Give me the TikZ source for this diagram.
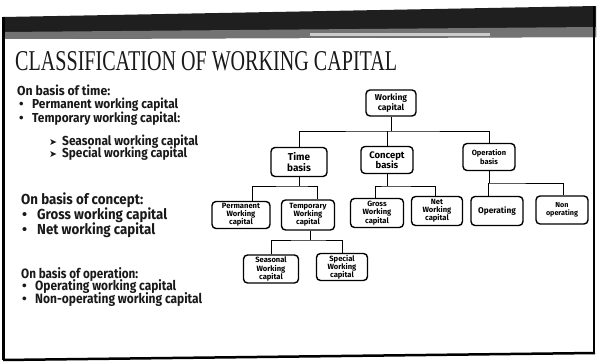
\documentclass[tikz,border=0pt]{standalone}
\usepackage{fontspec}
\setmainfont{Fira Sans}
\newfontfamily\titlef{Liberation Serif}
\newfontfamily\dejavu{DejaVu Sans}
\newcommand\fw[2]{\resizebox{#1pt}{\height}{#2}}
\newcommand\sizeA{\bfseries\fontsize{13}{15}\selectfont}
\newcommand\sizeB{\bfseries\fontsize{14.5}{16}\selectfont}
\newcommand\sizeC{\bfseries\fontsize{13.5}{15}\selectfont}
\newcommand\leaf{\bfseries\fontsize{7.6}{8.2}\selectfont}
\tikzset{
  box/.style={draw, line width=1.4pt, rounded corners=4pt, align=center, inner sep=0pt,
    font=\bfseries\fontsize{8.5}{9.2}\selectfont},
  conn/.style={line width=0.9pt},
  txt/.style={anchor=base west, inner sep=0pt, text=black!90},
}
\begin{document}
\begin{tikzpicture}[x=1pt,y=-1pt]
\useasboundingbox (0,0) rectangle (598,364);
\fill[white] (0,0) rectangle (598,364);
% slide frame
\fill[black!88] (3,17) -- (596,6) -- (596,37) -- (3,39) -- cycle;
\fill[black!55] (3,32) -- (596,27) -- (596,37) -- (3,39) -- cycle;
\fill[black!20] (310,33) rectangle (490,35.5);
\draw[line width=3pt] (3,17) -- (3,360);
\draw[line width=2.5pt] (594,6) -- (594,354);
\draw[line width=2.5pt] (3,360) -- (595,353);

% title
\node[txt] (title) at (15,70) {\resizebox{382pt}{19pt}{\titlef\fontsize{20}{24}\selectfont CLASSIFICATION OF WORKING CAPITAL}};

% left text: time
\node[txt] (h1) at (17,95) {\fw{93}{\sizeA On basis of time:}};
\node[txt] (d1) at (19,108) {\sizeA •};
\node[txt] (t1) at (32,108) {\fw{146}{\sizeA Permanent working capital}};
\node[txt] (d2) at (19,122) {\sizeA •};
\node[txt] (t2) at (32,122) {\fw{148}{\sizeA Temporary working capital:}};
\node[txt] (a1) at (49,145) {\dejavu\fontsize{9.5}{10}\selectfont ➤};
\node[txt] (t3) at (62,145) {\fw{136}{\sizeA Seasonal working capital}};
\node[txt] (a2) at (49,157) {\dejavu\fontsize{9.5}{10}\selectfont ➤};
\node[txt] (t4) at (62,157) {\fw{125}{\sizeA Special working capital}};
% concept
\node[txt] (h2) at (21,204) {\fw{122}{\sizeB On basis of concept:}};
\node[txt] (d3) at (22,219) {\sizeB •};
\node[txt] (t5) at (37,219) {\fw{130}{\sizeB Gross working capital}};
\node[txt] (d4) at (22,234) {\sizeB •};
\node[txt] (t6) at (37,234) {\fw{118}{\sizeB Net working capital}};
% operation
\node[txt] (h3) at (21,278) {\fw{117}{\sizeC On basis of operation:}};
\node[txt] (d5) at (22,290) {\sizeC •};
\node[txt] (t7) at (35,290) {\fw{141}{\sizeC Operating working capital}};
\node[txt] (d6) at (22,303) {\sizeC •};
\node[txt] (t8) at (35,303) {\fw{167}{\sizeC Non-operating working capital}};

% tree
\node[box, minimum width=50pt, minimum height=26pt] (wc) at (391,103) {Working\\capital};
\node[box, minimum width=56pt, minimum height=29pt, font=\bfseries\fontsize{10}{11.5}\selectfont] (time) at (299,162) {Time\\basis};
\node[box, minimum width=52pt, minimum height=27pt, font=\bfseries\fontsize{9.5}{10.5}\selectfont] (concept) at (387,160) {Concept\\basis};
\node[box, minimum width=52pt, minimum height=27pt, font=\bfseries\fontsize{7.5}{9}\selectfont] (oper) at (489,157) {Operation\\basis};
\node[box, minimum width=58pt, minimum height=27pt, font=\leaf] (perm) at (241,215) {Permanent\\Working\\capital};
\node[box, minimum width=53pt, minimum height=30pt, font=\leaf] (temp) at (308,215) {Temporary\\Working\\capital};
\node[box, minimum width=53pt, minimum height=29pt, font=\leaf] (gross) at (377,213) {Gross\\Working\\capital};
\node[box, minimum width=51pt, minimum height=29pt, font=\leaf] (net) at (437,211) {Net\\Working\\capital};
\node[box, minimum width=52pt, minimum height=29pt, font=\bfseries\fontsize{8.3}{9}\selectfont] (opg) at (497,211) {Operating};
\node[box, minimum width=52pt, minimum height=28pt, font=\bfseries\fontsize{7.2}{8.2}\selectfont] (nonop) at (562,210) {Non\\operating};
\node[box, minimum width=55pt, minimum height=28pt, font=\leaf] (seas) at (271,269) {Seasonal\\Working\\capital};
\node[box, minimum width=51pt, minimum height=27pt, font=\leaf] (spec) at (342,267) {Special\\Working\\capital};

% connectors
\coordinate (bA) at (391,131);
\coordinate (bT) at (299,186);
\coordinate (bC) at (387,186);
\coordinate (bO) at (489,183);
\coordinate (bS) at (310,240);
\draw[conn] (wc.south) -- (bA);
\draw[conn] (time.north) |- (bA) -| (oper.north);
\draw[conn] (concept.north) -- (concept.north |- bA);
\draw[conn] (time.south) -- (bT);
\draw[conn] ([xshift=11pt]perm.north) |- (bT) -| ([xshift=9pt]temp.north);
\draw[conn] (concept.south) -- (bC);
\draw[conn] ([xshift=-2pt]gross.north) |- (bC) -| ([xshift=-2pt]net.north);
\draw[conn] (oper.south) -- (bO);
\draw[conn] ([xshift=-9pt]opg.north) |- (bO) -| ([xshift=1pt]nonop.north);
\draw[conn] ([xshift=2pt]temp.south) -- (bS);
\draw[conn] (seas.north) |- (bS) -| (spec.north);
\end{tikzpicture}
\end{document}
